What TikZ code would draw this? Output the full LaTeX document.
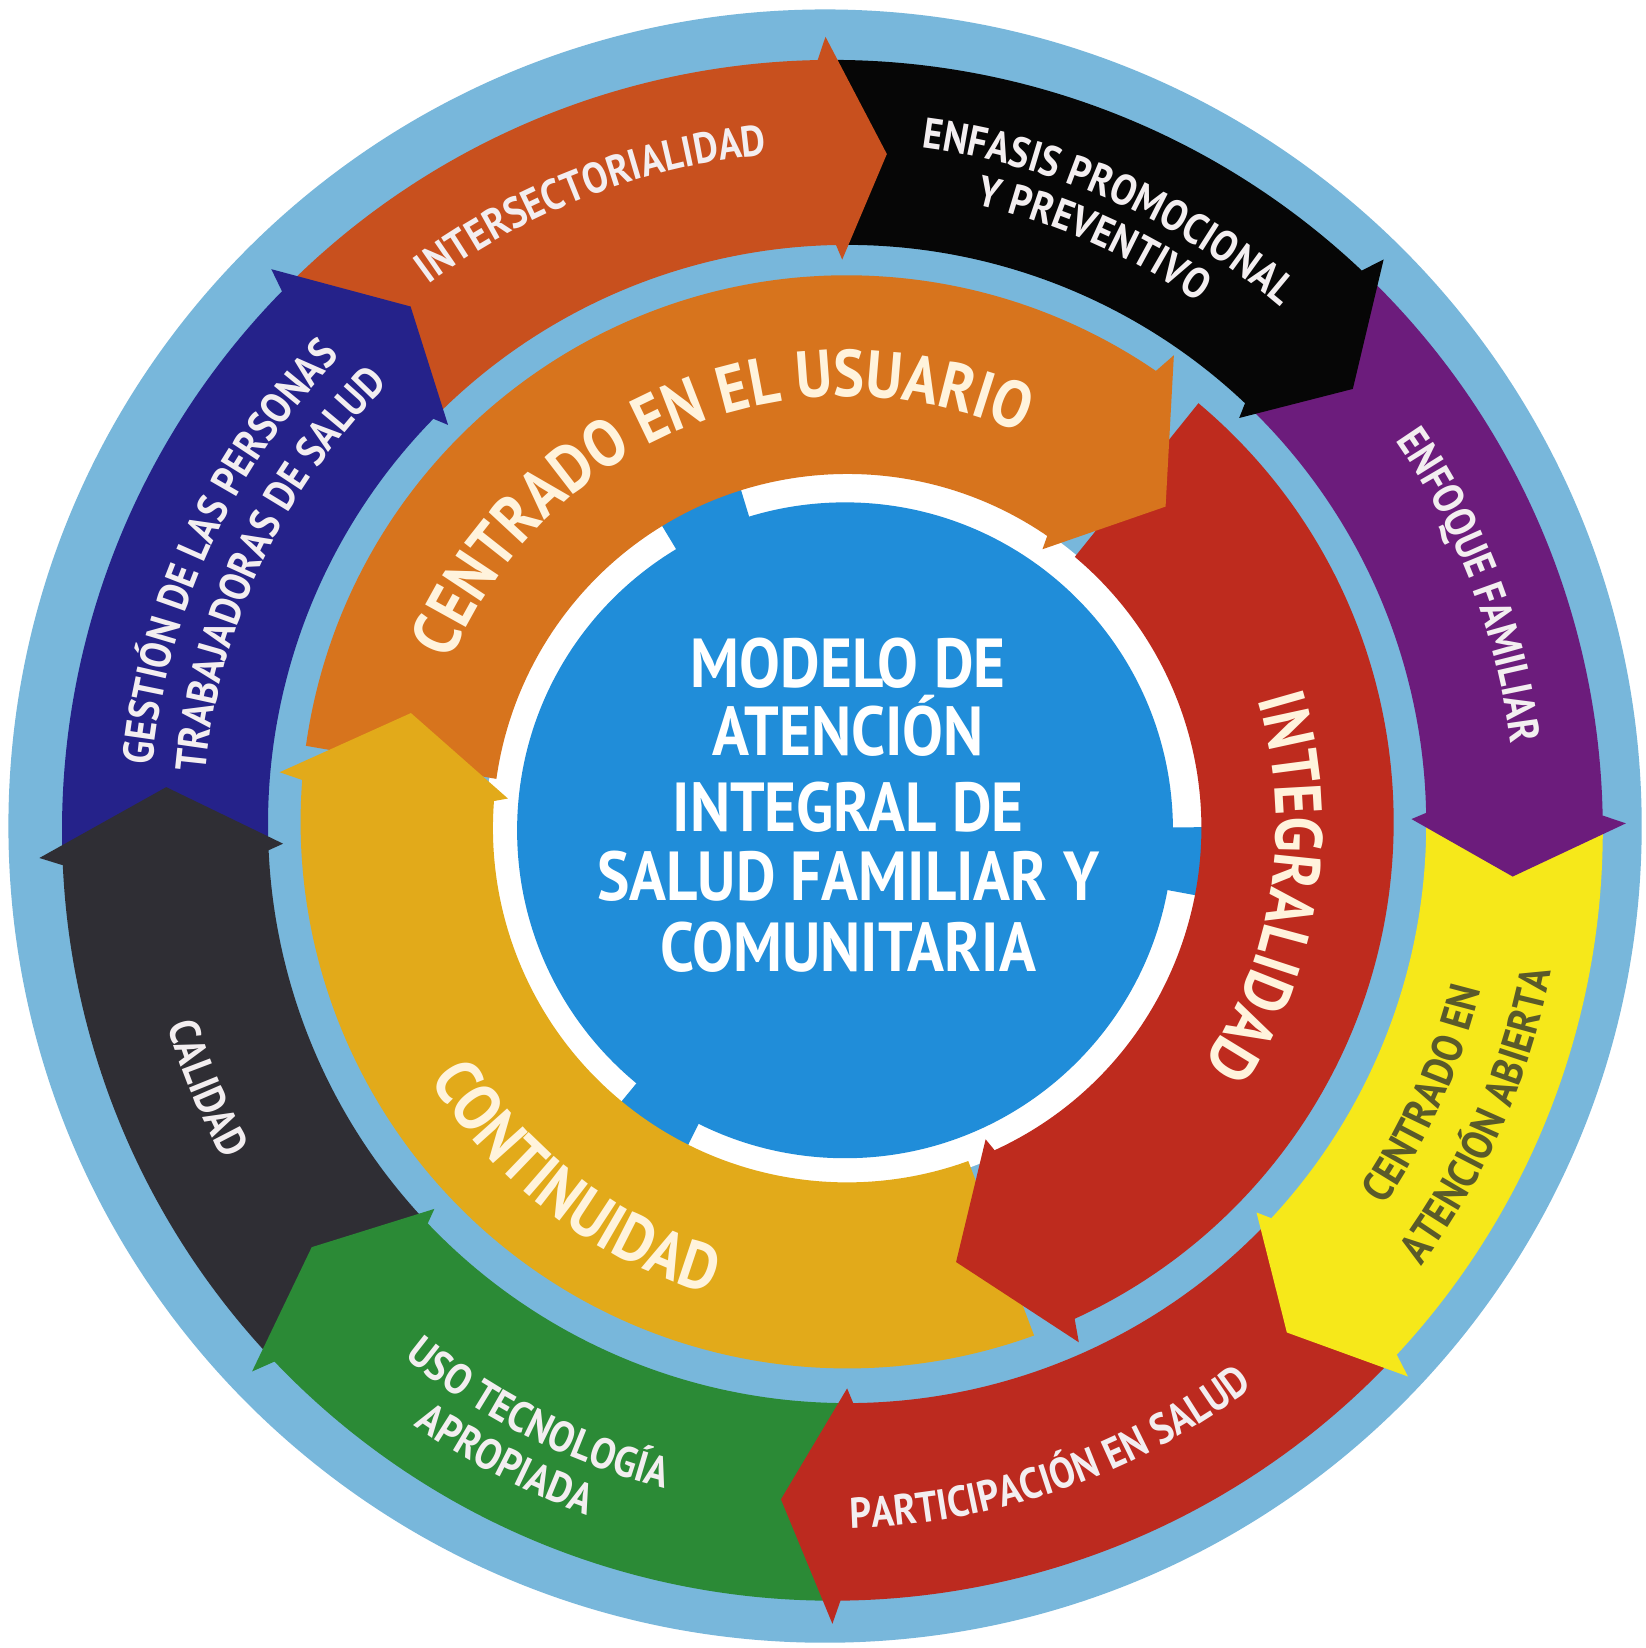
\documentclass[tikz,border=0pt]{standalone}
\usepackage{fontspec}
\newfontfamily\dfont[FakeStretch=0.88]{PT Sans}
\usetikzlibrary{calc,decorations.text}
\definecolor{lblue}{HTML}{78B7DB}
\definecolor{cOR}{HTML}{C8501E}
\definecolor{cBK}{HTML}{060606}
\definecolor{cPU}{HTML}{6C1C7C}
\definecolor{cYE}{HTML}{F6E81A}
\definecolor{cRD}{HTML}{BC2A1F}
\definecolor{cGR}{HTML}{2B8A36}
\definecolor{cDG}{HTML}{2F2E34}
\definecolor{cNV}{HTML}{25228A}
\definecolor{iOR}{HTML}{D7741D}
\definecolor{iRD}{HTML}{BE2B1E}
\definecolor{iYE}{HTML}{E2AA1A}
\definecolor{cBL}{HTML}{208DD9}
\definecolor{cream}{HTML}{FFF3DC}
\definecolor{otxt}{HTML}{F3EEF0}
\definecolor{olive}{HTML}{5A5A2A}
\newcommand\ofont{\dfont\bfseries\fontsize{20.5}{24}\selectfont}
\newcommand\ifont{\dfont\bfseries\fontsize{31.5}{36}\selectfont}
% body of a ring arrow: color, outer centre, Rout, inner centre, Rin, a1, a2
\newcommand\ringbody[7]{%
  \fill[#1] ($(#2)+(#6:#3)$) arc[start angle=#6, end angle=#7, radius=#3]
    -- ($(#4)+(#7:#5)$) arc[start angle=#7, end angle=#6, radius=#5] -- cycle;}
% head: color, outer centre, Rout, inner centre, Rin, a2 (barbs), a3 (tip), ext out, ext in
\newcommand\ringhead[9]{%
  \pgfmathsetmacro\rob{#3+#8}%
  \pgfmathsetmacro\rib{#5-#9}%
  \pgfmathsetmacro\rmid{(#3+#5)/2}%
  \pgfmathsetmacro\ab{#6+0.6}%
  \coordinate (hm) at ($(#2)!0.5!(#4)$);
  \fill[#1] ($(#2)+(\ab:#3)$) -- ($(#2)+(#6:\rob)$) -- ($(hm)+(#7:\rmid)$)
    -- ($(#4)+(#6:\rib)$) -- ($(#4)+(\ab:#5)$) -- cycle;}
% text along a clockwise arc: centre, baseline radius, mid angle, font, colour, text
\newcommand\cwtext[6]{%
  \pgfmathsetmacro\aS{#3+75}\pgfmathsetmacro\aE{#3-75}%
  \path[decorate,decoration={text along path,text align=center,text color=#5,text={|#4|#6}}]
    ($(#1)+(\aS:#2)$) arc[start angle=\aS,end angle=\aE,radius=#2];}
\newcommand\ccwtext[6]{%
  \pgfmathsetmacro\aS{#3-75}\pgfmathsetmacro\aE{#3+75}%
  \path[decorate,decoration={text along path,text align=center,text color=#5,text={|#4|#6}}]
    ($(#1)+(\aS:#2)$) arc[start angle=\aS,end angle=\aE,radius=#2];}
\begin{document}
\begin{tikzpicture}[x=0.5pt,y=0.5pt,
  ctext/.style={font=\dfont\bfseries\fontsize{33}{38}\selectfont,text=white,anchor=base,inner sep=0pt}]
\useasboundingbox (0,0) rectangle (1566,1568);
\fill[white] (0,0) rectangle (1566,1568);
\coordinate (Cbg) at (785,782);
\coordinate (Co) at (792,778);
\coordinate (Ci) at (806,784);
\coordinate (Cio) at (806,786);
\coordinate (Cii) at (806,780);
\coordinate (Cb) at (804,778);
\coordinate (Cim) at (806,783);
\fill[lblue] (Cbg) circle[radius=777];
% outer ring
\ringbody{cOR}{Co}{733}{Ci}{551}{135}{90.5}
\ringbody{cBK}{Co}{733}{Ci}{551}{90.5}{46}
\ringbody{cPU}{Co}{733}{Ci}{551}{46}{0.5}
\ringbody{cYE}{Co}{733}{Ci}{551}{0.5}{-43.5}
\ringbody{cRD}{Co}{733}{Ci}{551}{-43.5}{-90}
\ringbody{cGR}{Co}{733}{Ci}{551}{-90}{-137}
\ringbody{cDG}{Co}{733}{Ci}{551}{223}{182}
\ringbody{cNV}{Co}{733}{Ci}{551}{182}{135}
\ringhead{cOR}{Co}{733}{Ci}{551}{90.5}{86}{22}{14}
\ringhead{cBK}{Co}{733}{Ci}{551}{46}{40.5}{22}{14}
\ringhead{cPU}{Co}{733}{Ci}{551}{0.5}{-4.2}{22}{14}
\ringhead{cYE}{Co}{733}{Ci}{551}{-43.5}{-48.5}{22}{14}
\ringhead{cRD}{Co}{733}{Ci}{551}{-90}{-95}{22}{14}
\ringhead{cGR}{Co}{733}{Ci}{551}{-137}{-141.5}{22}{14}
\ringhead{cDG}{Co}{733}{Ci}{551}{182}{176.6}{22}{14}
\ringhead{cNV}{Co}{733}{Ci}{551}{135}{129.5}{22}{14}
% centre disc with white ring and notches
\fill[white] (Cb) circle[radius=342];
\fill[cBL] (Cb) circle[radius=312];
\fill[cBL] ($(Cb)+(107:290)$) arc[start angle=107,end angle=121,radius=290]
  -- ($(Cb)+(121:346)$) arc[start angle=121,end angle=107,radius=346] -- cycle;
\fill[cBL] ($(Cb)+(-10.5:290)$) arc[start angle=-10.5,end angle=0.5,radius=290]
  -- ($(Cb)+(0.5:346)$) arc[start angle=0.5,end angle=-10.5,radius=346] -- cycle;
\fill[cBL] ($(Cb)+(-129.5:290)$) arc[start angle=-129.5,end angle=-116.5,radius=290]
  -- ($(Cb)+(-116.5:346)$) arc[start angle=-116.5,end angle=-129.5,radius=346] -- cycle;
% inner ring
\ringbody{iRD}{Cio}{520}{Cii}{337}{50}{-66}
\ringbody{iYE}{Cio}{520}{Cii}{337}{290}{175}
\ringbody{iOR}{Cio}{520}{Cii}{337}{172}{55}
\ringhead{iOR}{Cio}{520}{Cii}{337}{55}{45}{22}{13}
\ringhead{iRD}{Cio}{520}{Cii}{337}{-66}{-76}{22}{13}
\ringhead{iYE}{Cio}{520}{Cii}{337}{175}{165.6}{22}{13}
% outer texts
\cwtext{Co}{646}{111}{\ofont}{otxt}{INTERSECTORIALIDAD}
\cwtext{Co}{655}{66}{\ofont}{otxt}{ENFASIS PROMOCIONAL}
\cwtext{Co}{611}{66.2}{\ofont}{otxt}{Y PREVENTIVO}
\cwtext{Co}{651}{21}{\ofont}{otxt}{ENFOQUE FAMILIAR}
\ccwtext{Co}{635}{-24}{\ofont}{olive}{CENTRADO EN}
\ccwtext{Co}{697}{-23.8}{\ofont}{olive}{ATENCIÓN ABIERTA}
\ccwtext{Co}{664}{-70.7}{\ofont}{otxt}{PARTICIPACIÓN EN SALUD}
\ccwtext{Co}{646}{-116.7}{\ofont}{otxt}{USO TECNOLOGÍA}
\ccwtext{Co}{692}{-117.4}{\ofont}{otxt}{APROPIADA}
\ccwtext{Co}{659}{202.4}{\ofont}{otxt}{CALIDAD}
\cwtext{Co}{650}{155.3}{\ofont}{otxt}{GESTIÓN DE LAS PERSONAS}
\cwtext{Co}{599}{154.8}{\ofont}{otxt}{TRABAJADORAS DE SALUD}
% inner texts
\cwtext{Cim}{408}{111.7}{\ifont}{cream}{CENTRADO EN EL USUARIO}
\cwtext{Cim}{408}{-8.5}{\ifont}{cream}{INTEGRALIDAD}
\ccwtext{Cim}{465}{-127.5}{\ifont}{cream}{CONTINUIDAD}
% centre text
\node[ctext] (t1) at (807,914) {MODELO DE};
\node[ctext] (t2) at (807,849) {ATENCIÓN};
\node[ctext] (t3) at (807,777) {INTEGRAL DE};
\node[ctext] (t4) at (807,711) {SALUD FAMILIAR Y};
\node[ctext] (t5) at (807,644) {COMUNITARIA};
\end{tikzpicture}
\end{document}
